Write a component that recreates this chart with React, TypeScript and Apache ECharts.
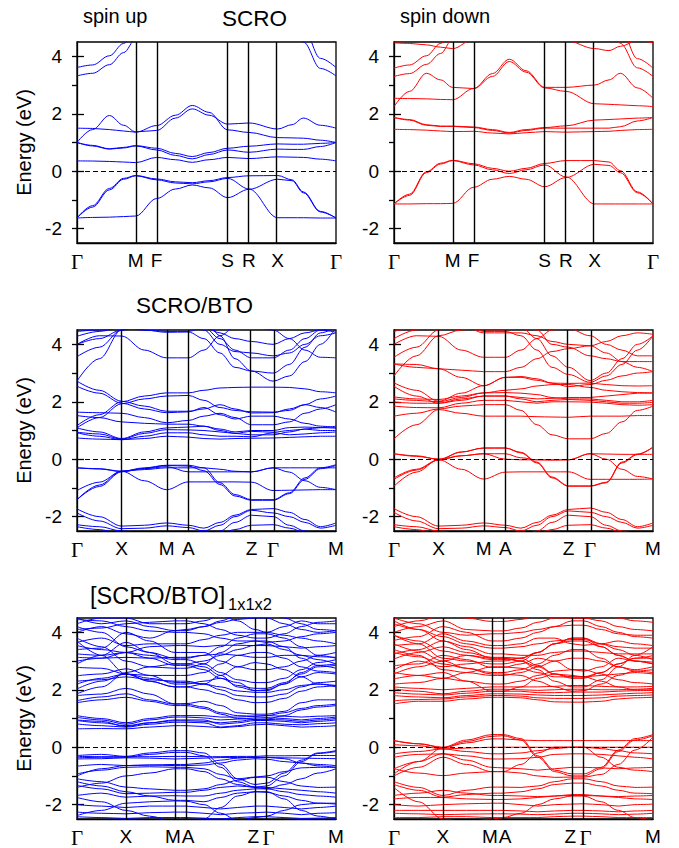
import React, { useEffect, useRef } from 'react';
import * as echarts from 'echarts';

// ---------- k-path positions and labels ----------
const kSCRO = [0, 0.06, 0.125, 0.18, 0.2265, 0.3076, 0.38, 0.445, 0.51, 0.5817, 0.664, 0.7748, 0.83, 0.874, 0.94, 1];
const symSCRO = [0, 0.2265, 0.3076, 0.5817, 0.664, 0.7748, 1];
const labSCRO = ['Γ', 'M', 'F', 'S', 'R', 'X', 'Γ'];

const kBTO = [0, 0.086, 0.1725, 0.26, 0.346, 0.43, 0.49, 0.552, 0.61, 0.674, 0.757, 0.82, 0.88, 0.94, 1];
const symBTO = [0, 0.1725, 0.346, 0.43, 0.674, 0.757, 1];
const labBTO = ['Γ', 'X', 'M', 'A', 'Z', 'Γ', 'M'];

const kSL = [0, 0.095, 0.189, 0.28, 0.378, 0.421, 0.49, 0.555, 0.62, 0.688, 0.732, 0.8, 0.866, 0.93, 1];
const symSL = [0, 0.189, 0.378, 0.421, 0.688, 0.732, 1];
const labSL = ['Γ', 'X', 'M', 'A', 'Z', 'Γ', 'M'];

const yMajor = [-2, 0, 2, 4];
const yAllTicks = [-2, -1, 0, 1, 2, 3, 4];

// ---------- SCRO spin up ----------
const upSCRO = [
  [-1.63, -1.2, -0.6, -0.25, -0.15, -0.27, -0.37, -0.40, -0.33, -0.22, -0.16, -0.15, -0.3, -0.72, -1.4, -1.63],
  [-1.63, -1.25, -0.65, -0.28, -0.16, -0.30, -0.41, -0.44, -0.37, -0.25, -0.62, -1.62, -1.62, -1.62, -1.63, -1.63],
  [-1.63, -1.61, -1.6, -1.58, -1.56, -0.95, -0.62, -0.48, -0.58, -0.92, -0.63, -0.28, -0.33, -0.75, -1.42, -1.63],
  [0.36, 0.355, 0.34, 0.32, 0.30, 0.48, 0.40, 0.31, 0.40, 0.48, 0.44, 0.50, 0.49, 0.48, 0.42, 0.36],
  [1.0, 0.88, 0.77, 0.81, 0.88, 0.74, 0.55, 0.43, 0.58, 0.74, 0.66, 0.77, 0.76, 0.76, 0.86, 1.0],
  [1.0, 0.9, 0.78, 0.83, 0.89, 0.80, 0.62, 0.51, 0.65, 0.80, 0.87, 0.95, 0.94, 0.94, 0.97, 1.0],
  [1.5, 1.49, 1.45, 1.40, 1.36, 1.59, 1.95, 2.29, 2.05, 1.44, 1.35, 1.17, 1.16, 1.15, 1.08, 1.0],
  [1.0, 1.45, 1.94, 1.6, 1.37, 1.42, 1.85, 2.17, 1.95, 1.64, 1.68, 1.47, 1.62, 1.85, 1.6, 1.5],
  [3.32, 3.41, 3.71, 4.13, 4.6, 5.2, 5.5, 5.6, 5.5, 5.3, 5.2, 5.0, 5.4, 4.5, 3.58, 3.32],
  [3.61, 3.70, 4.02, 4.45, 4.9, 5.4, 5.7, 5.8, 5.7, 5.5, 5.4, 5.5, 5.8, 5.0, 3.93, 3.61],
  [4.47, 4.9, 5.5, 5.9, 6, 6, 6, 6, 6, 6, 6, 6, 6, 5.5, 4.8, 4.47],
];

// ---------- SCRO spin down ----------
const dnSCRO = [
  [-1.14, -0.8, -0.02, 0.28, 0.38, 0.26, 0.1, 0.0, 0.1, 0.27, 0.37, 0.37, 0.32, 0.02, -0.72, -1.14],
  [-1.14, -0.84, -0.05, 0.25, 0.37, 0.22, 0.05, -0.08, 0.05, 0.22, -0.2, -1.14, -1.14, -1.14, -1.14, -1.14],
  [-1.14, -1.14, -1.13, -1.13, -1.12, -0.56, -0.28, -0.18, -0.28, -0.54, -0.22, 0.24, 0.2, -0.05, -0.75, -1.14],
  [1.46, 1.45, 1.43, 1.4, 1.38, 1.39, 1.33, 1.3, 1.34, 1.38, 1.36, 1.38, 1.39, 1.42, 1.45, 1.46],
  [1.87, 1.78, 1.6, 1.56, 1.56, 1.52, 1.42, 1.33, 1.42, 1.5, 1.5, 1.5, 1.5, 1.55, 1.75, 1.87],
  [1.87, 1.8, 1.62, 1.57, 1.57, 1.54, 1.45, 1.35, 1.45, 1.52, 1.58, 1.78, 1.8, 1.82, 1.85, 1.87],
  [2.25, 2.78, 3.41, 3.18, 2.92, 2.88, 3.4, 3.9, 3.5, 2.92, 2.92, 3.0, 3.18, 3.41, 2.9, 2.54],
  [2.54, 2.53, 2.52, 2.5, 2.49, 2.88, 3.3, 3.82, 3.45, 2.9, 2.78, 2.35, 2.33, 2.31, 2.28, 2.25],
  [3.3, 3.4, 3.72, 4.1, 4.6, 5.2, 5.5, 5.6, 5.5, 5.3, 5.2, 5.0, 5.3, 4.45, 3.6, 3.3],
  [3.59, 3.7, 4.02, 4.45, 4.9, 5.4, 5.7, 5.8, 5.7, 5.5, 5.4, 5.5, 5.7, 5.0, 3.92, 3.59],
  [4.47, 4.45, 4.4, 4.32, 4.27, 4.6, 5, 5.2, 5, 4.8, 4.55, 4.27, 4.2, 4.35, 4.55, 4.47],
];

// ---------- SCRO/BTO spin up ----------
const upBTO = [
  [-0.30, -0.33, -0.42, -0.30, -0.21, -0.21, -0.30, -0.82, -1.23, -1.41, -1.41, -1.17, -0.65, -0.30, -0.19],
  [-0.30, -0.34, -0.43, -0.33, -0.26, -0.44, -0.44, -0.44, -0.44, -0.44, -0.30, -0.45, -0.75, -0.98, -1.06],
  [-1.09, -0.80, -0.42, -0.75, -1.06, -0.79, -0.79, -0.79, -0.79, -0.80, -1.09, -1.08, -1.07, -1.06, -1.06],
  [-1.41, -0.95, -0.44, -0.32, -0.22, -0.24, -0.40, -0.88, -1.28, -1.43, -1.43, -1.20, -0.70, -0.33, -0.22],
  [-1.41, -0.90, -0.41, -0.36, -0.30, -0.30, -0.30, -0.35, -0.42, -0.44, -0.30, -0.30, -0.30, -0.30, -0.30],
  [-1.73, -2.0, -2.33, -2.30, -2.22, -2.30, -2.40, -2.20, -1.95, -1.75, -1.72, -1.85, -2.10, -2.35, -2.22],
  [-1.87, -2.15, -2.42, -2.40, -2.32, -2.38, -2.50, -2.30, -2.00, -1.78, -1.87, -2.00, -2.20, -2.40, -2.30],
  [-2.28, -2.35, -2.50, -2.60, -2.60, -2.60, -2.60, -2.60, -2.45, -2.30, -2.28, -2.40, -2.55, -2.60, -2.60],
  [-2.35, -2.45, -2.60, -2.70, -2.70, -2.70, -2.70, -2.50, -2.20, -1.95, -2.00, -2.30, -2.50, -2.60, -2.70],
  [0.74, 0.70, 0.68, 0.72, 0.80, 0.77, 0.72, 0.70, 0.72, 0.73, 0.74, 0.76, 0.78, 0.80, 0.80],
  [0.92, 0.80, 0.68, 0.80, 0.92, 0.92, 0.85, 0.80, 0.80, 0.78, 0.92, 0.85, 0.88, 0.92, 0.95],
  [0.94, 0.88, 0.70, 0.90, 1.03, 1.02, 1.00, 0.95, 0.90, 0.97, 0.94, 1.00, 1.05, 1.00, 1.00],
  [1.09, 0.95, 0.72, 0.95, 1.09, 1.12, 1.15, 1.05, 0.95, 1.00, 1.00, 1.10, 1.12, 1.10, 1.08],
  [1.17, 1.55, 2.00, 2.20, 2.31, 2.31, 2.40, 2.48, 2.50, 2.51, 2.51, 2.50, 2.45, 2.35, 2.31],
  [1.09, 1.45, 1.93, 2.10, 2.20, 2.22, 2.05, 1.80, 1.70, 1.65, 1.64, 1.70, 1.90, 2.10, 2.20],
  [2.72, 2.40, 2.02, 1.85, 1.67, 1.67, 1.75, 1.90, 1.75, 1.61, 1.62, 1.75, 1.90, 1.80, 1.64],
  [2.54, 2.30, 1.95, 1.75, 1.62, 1.65, 1.80, 1.55, 1.40, 1.50, 1.50, 1.40, 1.25, 1.15, 1.10],
  [1.64, 1.62, 1.60, 1.45, 1.27, 1.35, 1.50, 1.60, 1.45, 1.20, 1.20, 1.30, 1.60, 1.75, 1.90],
  [1.52, 1.45, 1.30, 1.25, 1.22, 1.22, 1.15, 1.00, 0.90, 0.85, 0.85, 0.95, 1.05, 1.10, 1.15],
  [2.72, 3.50, 4.50, 5.00, 5.00, 5.00, 5.00, 4.30, 3.50, 3.07, 2.72, 2.90, 3.40, 4.00, 4.60],
  [4.00, 4.30, 4.29, 3.80, 3.53, 3.53, 3.80, 4.30, 4.60, 4.60, 4.50, 4.20, 3.80, 3.55, 3.53],
  [4.28, 4.45, 4.60, 4.50, 4.42, 4.43, 4.20, 3.70, 3.20, 3.07, 3.00, 3.30, 3.90, 4.40, 4.60],
  [3.57, 3.90, 4.50, 4.80, 4.80, 4.80, 4.60, 4.20, 3.80, 3.53, 3.53, 3.80, 4.20, 4.50, 4.60],
  [4.00, 4.20, 4.50, 4.60, 4.60, 4.60, 4.50, 4.00, 3.75, 3.70, 3.60, 3.70, 4.00, 4.30, 4.40],
  [4.45, 4.50, 4.55, 4.50, 4.45, 4.45, 4.60, 4.40, 4.20, 4.10, 4.00, 4.20, 4.40, 4.50, 4.42],
];

// ---------- SCRO/BTO spin down ----------
const dnBTO = [
  [0.19, 0.10, 0.00, 0.25, 0.39, 0.39, 0.22, -0.13, -0.65, -0.94, -0.94, -0.82, -0.13, 0.16, 0.42],
  [-0.94, -0.45, -0.02, 0.25, 0.39, 0.39, 0.24, -0.10, -0.62, -0.93, -0.93, -0.80, -0.10, 0.18, 0.42],
  [0.19, 0.12, 0.00, 0.12, 0.19, 0.00, -0.02, -0.02, -0.02, -0.02, 0.19, 0.18, 0.17, 0.17, 0.17],
  [-0.65, -0.35, -0.02, -0.35, -0.69, -0.45, -0.44, -0.44, -0.44, -0.44, -0.70, -0.70, -0.70, -0.70, -0.69],
  [-0.70, -0.38, -0.03, 0.12, 0.19, 0.19, 0.05, -0.02, -0.03, -0.02, 0.19, 0.00, -0.35, -0.60, -0.69],
  [-1.72, -2.0, -2.33, -2.30, -2.22, -2.30, -2.40, -2.20, -1.95, -1.75, -1.70, -1.85, -2.10, -2.35, -2.22],
  [-1.85, -2.15, -2.42, -2.40, -2.32, -2.38, -2.50, -2.30, -2.00, -1.80, -1.85, -2.00, -2.20, -2.40, -2.30],
  [-2.28, -2.35, -2.50, -2.60, -2.60, -2.60, -2.60, -2.60, -2.45, -2.30, -2.28, -2.40, -2.55, -2.60, -2.60],
  [-2.35, -2.45, -2.60, -2.70, -2.70, -2.70, -2.70, -2.50, -2.20, -1.95, -2.00, -2.30, -2.50, -2.60, -2.70],
  [0.71, 1.20, 1.73, 1.60, 1.50, 1.50, 1.50, 1.48, 1.47, 1.46, 1.50, 1.50, 1.50, 1.52, 1.52],
  [1.50, 1.60, 1.75, 1.85, 1.90, 1.90, 1.70, 1.20, 0.85, 0.71, 0.71, 0.90, 1.30, 1.70, 1.85],
  [1.85, 1.80, 1.79, 1.95, 2.05, 2.05, 2.00, 1.95, 2.00, 2.00, 1.99, 1.95, 1.90, 1.88, 1.90],
  [1.99, 1.95, 1.95, 2.05, 2.20, 2.20, 2.10, 2.00, 2.05, 2.08, 2.05, 2.00, 1.95, 1.95, 1.98],
  [2.10, 2.05, 2.00, 2.15, 2.31, 2.32, 2.30, 2.25, 2.15, 2.10, 2.10, 2.05, 2.00, 2.00, 2.05],
  [2.17, 2.10, 2.08, 2.20, 2.31, 2.40, 2.45, 2.55, 2.60, 2.60, 2.50, 2.40, 2.35, 2.32, 2.31],
  [2.54, 2.20, 1.95, 2.10, 2.20, 2.20, 2.15, 2.10, 2.12, 2.15, 2.15, 2.20, 2.25, 2.30, 2.30],
  [2.66, 2.40, 2.02, 2.30, 2.56, 2.85, 2.85, 2.75, 2.65, 2.64, 2.65, 2.60, 2.56, 2.55, 2.56],
  [3.32, 3.20, 3.15, 2.85, 2.56, 2.85, 2.88, 2.80, 2.65, 2.53, 2.60, 2.75, 2.90, 3.00, 3.05],
  [2.90, 3.60, 4.30, 4.50, 4.60, 4.60, 4.60, 4.20, 3.60, 3.20, 2.74, 3.00, 3.50, 4.00, 4.30],
  [3.32, 3.30, 3.15, 3.10, 3.05, 3.05, 3.20, 3.50, 3.75, 3.85, 3.95, 3.70, 3.40, 3.20, 3.05],
  [4.00, 4.30, 4.28, 3.80, 3.55, 3.55, 3.80, 4.20, 4.50, 4.55, 4.30, 4.00, 3.80, 3.60, 3.60],
  [3.55, 3.90, 4.50, 4.80, 4.45, 4.45, 4.30, 3.80, 3.20, 2.95, 2.68, 2.90, 3.30, 3.80, 4.30],
  [4.20, 4.50, 4.80, 4.70, 4.40, 4.40, 4.40, 4.30, 4.10, 4.00, 3.95, 4.10, 4.30, 4.40, 4.35],
  [4.45, 4.60, 4.70, 4.60, 4.50, 4.50, 4.60, 4.50, 4.00, 3.90, 3.60, 3.50, 3.40, 3.40, 3.40],
];

// ---------- [SCRO/BTO]1x1x2 spin up ----------
const upSL = [
  [-0.29, -0.25, -0.32, -0.2, -0.12, -0.12, -0.2, -0.6, -1.1, -1.3, -1.25, -0.9, -0.45, -0.2, -0.12],
  [-0.37, -0.35, -0.35, -0.25, -0.18, -0.18, -0.3, -0.7, -1.2, -1.39, -1.35, -1.0, -0.5, -0.22, -0.15],
  [-0.32, -0.33, -0.33, -0.33, -0.32, -0.32, -0.33, -0.33, -0.32, -0.32, -0.3, -0.3, -0.29, -0.29, -0.29],
  [-0.41, -0.4, -0.37, -0.38, -0.41, -0.4, -0.38, -0.36, -0.36, -0.36, -0.36, -0.37, -0.38, -0.39, -0.4],
  [-0.66, -0.6, -0.64, -0.62, -0.64, -0.64, -0.62, -0.55, -0.45, -0.4, -0.42, -0.5, -0.55, -0.6, -0.64],
  [-0.93, -0.8, -0.7, -0.68, -0.7, -0.7, -0.75, -0.95, -1.1, -1.04, -1.0, -0.85, -0.72, -0.7, -0.7],
  [-1.0, -0.75, -0.64, -0.62, -0.6, -0.6, -0.55, -0.45, -0.38, -0.35, -0.35, -0.4, -0.55, -0.65, -0.7],
  [-1.1, -1.2, -1.39, -1.45, -1.5, -1.5, -1.45, -1.3, -1.15, -1.05, -1.04, -1.2, -1.35, -1.4, -1.39],
  [-1.33, -1.45, -1.62, -1.6, -1.57, -1.57, -1.5, -1.4, -1.35, -1.39, -1.4, -1.45, -1.5, -1.55, -1.6],
  [-1.68, -1.6, -1.74, -1.7, -1.69, -1.7, -1.7, -1.6, -1.5, -1.45, -1.45, -1.55, -1.65, -1.7, -1.74],
  [-1.4, -1.25, -1.0, -0.9, -0.75, -0.75, -0.85, -1.1, -1.3, -1.4, -1.45, -1.3, -1.1, -0.9, -0.75],
  [-1.2, -1.35, -1.55, -1.7, -1.85, -1.85, -1.9, -1.75, -1.6, -1.55, -1.57, -1.7, -1.85, -1.95, -1.98],
  [-2.0, -2.05, -2.1, -2.05, -2.05, -2.05, -2.1, -2.15, -2.1, -2.05, -2.05, -2.1, -2.15, -2.1, -2.05],
  [-2.26, -2.3, -2.32, -2.28, -2.26, -2.26, -2.3, -2.35, -2.3, -2.28, -2.26, -2.3, -2.35, -2.3, -2.28],
  [-2.38, -2.2, -1.95, -1.9, -1.87, -1.88, -2.0, -2.3, -2.55, -2.45, -2.4, -2.2, -2.0, -1.95, -1.95],
  [-1.75, -1.9, -2.2, -2.4, -2.6, -2.6, -2.5, -2.1, -1.7, -1.55, -1.55, -1.8, -2.2, -2.4, -2.5],
  [-2.42, -2.45, -2.48, -2.45, -2.45, -2.45, -2.47, -2.5, -2.45, -2.42, -2.42, -2.45, -2.48, -2.47, -2.45],
  [0.64, 0.65, 0.64, 0.7, 0.75, 0.75, 0.72, 0.68, 0.72, 0.78, 0.8, 0.75, 0.7, 0.72, 0.75],
  [0.81, 0.75, 0.7, 0.8, 0.87, 0.87, 0.85, 0.7, 0.75, 0.85, 0.85, 0.8, 0.78, 0.82, 0.85],
  [0.93, 0.85, 0.75, 0.85, 0.95, 0.95, 0.95, 0.8, 0.85, 0.93, 0.93, 0.9, 0.85, 0.9, 0.95],
  [1.04, 0.95, 0.8, 0.95, 1.05, 1.05, 1.02, 0.95, 0.98, 1.02, 1.03, 1.0, 0.95, 1.0, 1.05],
  [1.1, 1.0, 0.85, 1.0, 1.1, 1.1, 1.1, 1.05, 1.05, 1.08, 1.1, 1.08, 1.05, 1.08, 1.1],
  [0.95, 0.9, 0.72, 0.85, 0.92, 0.92, 0.9, 0.85, 0.9, 0.97, 0.97, 0.95, 0.9, 0.95, 1.0],
  [1.62, 1.75, 1.86, 1.65, 1.5, 1.5, 1.4, 1.2, 1.1, 1.08, 1.1, 1.2, 1.35, 1.45, 1.5],
  [1.8, 1.85, 2.05, 1.85, 1.51, 1.52, 1.6, 1.45, 1.2, 1.15, 1.15, 1.25, 1.55, 1.65, 1.65],
  [1.55, 1.65, 1.74, 1.6, 1.45, 1.45, 1.35, 1.15, 1.0, 0.97, 0.98, 1.1, 1.3, 1.4, 1.45],
  [2.03, 2.3, 2.55, 2.4, 2.26, 2.25, 2.2, 2.1, 1.96, 1.91, 1.91, 2.0, 2.15, 2.2, 2.15],
  [2.49, 2.55, 2.73, 2.5, 2.2, 2.2, 2.3, 2.4, 2.25, 1.97, 1.97, 2.2, 2.45, 2.6, 2.55],
  [1.86, 2.1, 2.6, 2.8, 2.9, 2.9, 2.8, 2.5, 2.1, 1.97, 2.0, 2.2, 2.6, 2.85, 2.9],
  [2.78, 2.75, 2.55, 2.5, 2.5, 2.5, 2.6, 2.9, 3.2, 3.3, 3.3, 3.1, 2.8, 2.65, 2.6],
  [3.13, 3.1, 3.13, 3.1, 3.13, 3.13, 3.2, 3.25, 3.2, 3.13, 3.13, 3.2, 3.2, 3.15, 3.13],
  [3.25, 3.2, 3.3, 3.2, 3.05, 3.05, 2.9, 2.6, 2.35, 2.25, 2.25, 2.4, 2.7, 2.95, 3.05],
  [3.54, 3.4, 3.3, 3.5, 3.54, 3.54, 3.5, 3.55, 3.55, 3.54, 3.54, 3.5, 3.45, 3.5, 3.54],
  [3.65, 3.8, 3.54, 3.6, 3.6, 3.6, 3.75, 3.9, 4.0, 4.0, 4.0, 3.9, 3.8, 3.7, 3.6],
  [4.0, 4.2, 3.95, 3.8, 4.06, 4.1, 4.2, 4.35, 4.45, 4.5, 4.5, 4.3, 4.1, 4.0, 4.06],
  [4.3, 4.5, 4.5, 4.3, 4.3, 4.3, 4.4, 4.6, 4.4, 4.1, 4.0, 4.2, 4.4, 4.3, 4.3],
  [2.9, 3.2, 3.65, 3.3, 2.9, 2.9, 3.0, 3.2, 3.4, 3.55, 3.6, 3.4, 3.2, 3.05, 2.9],
  [3.4, 3.45, 4.0, 3.7, 3.3, 3.3, 3.3, 3.0, 2.8, 2.7, 2.7, 2.8, 3.0, 3.2, 3.3],
  [4.45, 4.4, 4.2, 4.05, 4.0, 4.0, 3.95, 3.8, 3.7, 3.7, 3.65, 3.7, 3.85, 3.95, 4.0],
  [2.2, 2.4, 2.55, 2.3, 2.1, 2.1, 2.0, 1.85, 1.65, 1.55, 1.56, 1.7, 1.95, 2.1, 2.15],
  [3.7, 3.2, 2.55, 2.3, 2.1, 2.1, 2.2, 2.5, 2.8, 2.95, 2.9, 2.7, 2.45, 2.2, 2.1],
  [3.8, 3.5, 3.0, 2.8, 2.75, 2.75, 2.9, 3.3, 3.6, 3.7, 3.7, 3.5, 3.1, 2.85, 2.75],
  [4.2, 4.0, 3.5, 3.3, 3.1, 3.1, 3.2, 3.5, 3.8, 3.95, 3.95, 3.8, 3.5, 3.2, 3.1],
  [4.5, 4.3, 4.4, 4.2, 4.06, 4.06, 4.2, 4.4, 4.6, 4.7, 4.7, 4.5, 4.3, 4.1, 4.06],
  [2.3, 2.35, 2.45, 2.35, 2.3, 2.3, 2.2, 2.0, 1.8, 1.75, 1.75, 1.85, 2.1, 2.25, 2.3],
  [3.0, 3.1, 3.3, 3.1, 2.85, 2.85, 2.7, 2.4, 2.15, 2.05, 2.05, 2.25, 2.55, 2.8, 2.85],
  [4.1, 4.15, 4.3, 4.35, 4.4, 4.4, 4.3, 4.1, 3.9, 3.8, 3.8, 3.95, 4.2, 4.35, 4.4],
];

// ---------- [SCRO/BTO]1x1x2 spin down ----------
const dnSL = [
  [0.23, 0.12, 0.0, 0.25, 0.44, 0.44, 0.3, -0.3, -0.8, -0.93, -0.93, -0.7, -0.1, 0.3, 0.44],
  [-0.93, -0.5, -0.02, 0.2, 0.38, 0.4, 0.25, -0.35, -0.85, -1.0, -1.0, -0.75, -0.15, 0.25, 0.40],
  [0.23, 0.12, -0.02, 0.15, 0.29, 0.29, 0.25, 0.23, 0.23, 0.23, 0.23, 0.23, 0.23, 0.23, 0.23],
  [0.09, 0.05, -0.06, -0.03, 0.0, 0.0, 0.0, 0.0, 0.0, 0.0, 0.0, 0.0, 0.0, 0.0, 0.0],
  [-0.23, -0.15, -0.06, -0.15, -0.23, -0.23, -0.20, -0.12, -0.05, 0.0, 0.0, -0.05, -0.12, -0.2, -0.23],
  [-0.35, -0.25, -0.23, -0.3, -0.41, -0.41, -0.4, -0.35, -0.25, -0.23, -0.23, -0.25, -0.3, -0.35, -0.41],
  [-0.75, -0.5, -0.23, -0.45, -0.7, -0.72, -0.75, -0.8, -0.75, -0.7, -0.7, -0.72, -0.75, -0.72, -0.7],
  [-1.0, -0.7, -0.35, -0.6, -0.85, -0.85, -0.6, -0.2, 0.0, 0.0, 0.0, -0.35, -0.7, -0.8, -0.85],
  [-0.75, -0.9, -0.99, -0.9, -0.85, -0.85, -0.9, -1.0, -1.05, -1.04, -1.04, -0.95, -0.6, -0.1, 0.35],
  [-1.2, -1.4, -1.68, -1.5, -1.39, -1.39, -1.4, -1.35, -1.2, -1.1, -1.1, -1.2, -1.35, -1.4, -1.39],
  [-1.3, -1.5, -1.74, -1.65, -1.6, -1.6, -1.55, -1.45, -1.3, -1.25, -1.25, -1.35, -1.5, -1.6, -1.62],
  [-1.68, -1.6, -1.5, -1.6, -1.68, -1.68, -1.7, -1.72, -1.7, -1.68, -1.68, -1.7, -1.72, -1.7, -1.68],
  [-1.8, -1.75, -1.75, -1.8, -1.82, -1.82, -1.8, -1.75, -1.7, -1.65, -1.65, -1.7, -1.75, -1.8, -1.82],
  [-2.0, -2.05, -2.0, -1.97, -1.95, -1.95, -2.0, -2.05, -2.0, -1.98, -1.97, -2.0, -2.05, -2.0, -1.98],
  [-2.2, -2.2, -2.2, -2.2, -2.2, -2.2, -2.22, -2.25, -2.22, -2.2, -2.2, -2.22, -2.25, -2.22, -2.2],
  [-2.3, -2.32, -2.35, -2.33, -2.32, -2.32, -2.33, -2.35, -2.33, -2.3, -2.3, -2.32, -2.35, -2.33, -2.3],
  [-1.4, -1.9, -2.5, -2.6, -2.5, -2.45, -2.3, -2.0, -1.8, -1.7, -1.7, -1.9, -2.2, -2.45, -2.55],
  [-2.45, -2.45, -2.42, -2.42, -2.45, -2.45, -2.45, -2.45, -2.42, -2.4, -2.4, -2.42, -2.45, -2.45, -2.45],
  [1.51, 1.6, 1.6, 1.68, 1.74, 1.74, 1.72, 1.65, 1.58, 1.57, 1.57, 1.6, 1.68, 1.72, 1.74],
  [1.62, 1.66, 1.68, 1.75, 1.8, 1.8, 1.78, 1.72, 1.7, 1.7, 1.7, 1.72, 1.78, 1.8, 1.82],
  [1.8, 1.75, 1.72, 1.8, 1.86, 1.86, 1.85, 1.82, 1.8, 1.8, 1.8, 1.82, 1.85, 1.88, 1.9],
  [1.9, 1.85, 1.82, 1.88, 1.95, 1.95, 1.95, 1.9, 1.9, 1.92, 1.92, 1.92, 1.95, 1.97, 1.98],
  [2.03, 1.95, 1.86, 1.95, 2.02, 2.02, 2.0, 1.98, 2.0, 2.02, 2.02, 2.0, 2.0, 2.02, 2.05],
  [2.1, 2.05, 2.0, 2.05, 2.1, 2.1, 2.1, 2.1, 2.12, 2.15, 2.15, 2.12, 2.1, 2.1, 2.12],
  [2.38, 2.5, 2.6, 2.3, 1.95, 1.95, 2.1, 2.4, 2.55, 2.5, 2.45, 2.3, 2.1, 2.0, 2.0],
  [2.55, 2.8, 3.0, 2.75, 2.55, 2.55, 2.5, 2.3, 2.1, 1.95, 1.97, 2.2, 2.5, 2.65, 2.7],
  [2.84, 2.9, 3.2, 3.05, 2.78, 2.78, 2.9, 3.1, 3.0, 2.7, 2.65, 2.8, 3.1, 3.0, 2.96],
  [3.07, 3.3, 3.5, 3.3, 3.13, 3.13, 3.1, 2.85, 2.55, 2.4, 2.4, 2.6, 2.9, 3.1, 3.19],
  [3.25, 3.4, 3.7, 3.5, 3.25, 3.25, 3.2, 3.2, 3.3, 3.35, 3.35, 3.3, 3.25, 3.25, 3.25],
  [3.54, 3.6, 3.95, 3.7, 3.54, 3.54, 3.6, 3.8, 3.8, 3.6, 3.55, 3.6, 3.7, 3.6, 3.54],
  [3.72, 3.85, 4.2, 4.0, 3.7, 3.7, 3.8, 4.0, 4.2, 4.4, 4.4, 4.2, 4.0, 3.85, 3.8],
  [4.0, 4.2, 4.4, 4.1, 4.05, 4.05, 4.15, 4.35, 4.5, 4.5, 4.5, 4.4, 4.2, 4.1, 4.05],
  [4.2, 4.4, 4.6, 4.5, 4.38, 4.38, 4.45, 4.6, 4.7, 4.7, 4.7, 4.6, 4.5, 4.4, 4.35],
  [2.7, 3.0, 2.8, 2.9, 3.0, 3.0, 3.1, 3.3, 3.6, 3.7, 3.7, 3.5, 3.2, 3.0, 2.9],
  [2.6, 2.5, 2.4, 2.6, 2.8, 2.8, 2.75, 2.6, 2.45, 2.45, 2.45, 2.5, 2.55, 2.6, 2.55],
  [3.4, 3.2, 2.7, 2.6, 2.5, 2.5, 2.6, 2.8, 3.0, 3.1, 3.1, 3.0, 2.8, 2.7, 2.8],
  [4.4, 4.1, 3.7, 3.4, 3.1, 3.1, 3.0, 2.7, 2.3, 2.1, 2.1, 2.35, 2.8, 3.2, 3.5],
  [3.9, 3.7, 3.35, 3.2, 3.05, 3.05, 3.1, 3.3, 3.6, 3.8, 3.8, 3.6, 3.4, 3.2, 3.05],
  [3.3, 3.15, 2.9, 2.75, 2.6, 2.6, 2.7, 2.9, 3.2, 3.4, 3.4, 3.1, 2.8, 2.65, 2.6],
  [3.9, 3.6, 3.1, 3.0, 2.9, 2.9, 3.0, 3.3, 3.6, 3.8, 3.8, 3.5, 3.2, 3.0, 2.9],
  [4.3, 4.1, 3.85, 3.6, 3.45, 3.45, 3.5, 3.6, 3.7, 3.75, 3.75, 3.6, 3.5, 3.45, 3.45],
  [2.2, 2.25, 2.4, 2.3, 2.2, 2.2, 2.3, 2.5, 2.65, 2.7, 2.7, 2.55, 2.35, 2.25, 2.2],
  [4.5, 4.3, 4.0, 3.9, 3.95, 3.95, 4.0, 4.1, 4.2, 4.25, 4.25, 4.1, 3.95, 3.9, 3.9],
  [3.6, 3.35, 3.0, 3.2, 3.1, 3.1, 3.0, 2.8, 2.55, 2.45, 2.45, 2.6, 2.9, 3.1, 3.1],
];

const BLUE = '#0000ff';
const RED = '#ff0000';
const FONT = "'Liberation Sans', Arial, Helvetica, sans-serif";
const SERIF = "'Liberation Serif', 'Times New Roman', serif";

// label nudges (-1: push left, +1: push right) for tightly spaced symmetry points
const noNudge = [0, 0, 0, 0, 0, 0, 0];
const nudgeSL = [0, 0, -1, 1, -1, 1, 0];

const panels = [
  { k: kSCRO, sym: symSCRO, lab: labSCRO, nudge: noNudge, bands: upSCRO, color: BLUE, left: 77, top: 42, name: true },
  { k: kSCRO, sym: symSCRO, lab: labSCRO, nudge: noNudge, bands: dnSCRO, color: RED, left: 394, top: 42, name: false },
  { k: kBTO, sym: symBTO, lab: labBTO, nudge: noNudge, bands: upBTO, color: BLUE, left: 77, top: 330, name: true },
  { k: kBTO, sym: symBTO, lab: labBTO, nudge: noNudge, bands: dnBTO, color: RED, left: 394, top: 330, name: false },
  { k: kSL, sym: symSL, lab: labSL, nudge: nudgeSL, bands: upSL, color: BLUE, left: 77, top: 618, name: true },
  { k: kSL, sym: symSL, lab: labSL, nudge: nudgeSL, bands: dnSL, color: RED, left: 394, top: 618, name: false },
];

const PW = 259;
const PH = 201;

function buildOption() {
  const grid: any[] = [];
  const xAxis: any[] = [];
  const yAxis: any[] = [];
  const series: any[] = [];
  const n = panels.length;
  panels.forEach((p, i) => {
    grid.push({
      left: p.left, top: p.top, width: PW, height: PH,
      show: true, borderColor: '#000', borderWidth: 1.3, backgroundColor: 'transparent',
    });
    xAxis.push({
      type: 'value', gridIndex: i, min: 0, max: 1,
      splitLine: { show: false },
      axisLine: { show: true, onZero: false, lineStyle: { color: '#000', width: 1.3 } },
      axisTick: { show: false },
      axisLabel: {
        customValues: p.sym,
        margin: 8,
        fontSize: 19,
        color: '#000',
        fontFamily: FONT,
        formatter: (v: number) => {
          const idx = p.sym.findIndex((s) => Math.abs(s - v) < 1e-6);
          if (idx < 0) return '';
          const t = p.lab[idx];
          const nd = p.nudge[idx];
          const g = t === 'Γ';
          const key = (g ? 'g' : 's') + (nd < 0 ? 'L' : nd > 0 ? 'R' : '');
          return `{${key}|${t}}`;
        },
        rich: {
          g: { fontFamily: SERIF, fontSize: 21, color: '#000' },
          gL: { fontFamily: SERIF, fontSize: 21, color: '#000', padding: [0, 4, 0, 0] },
          gR: { fontFamily: SERIF, fontSize: 21, color: '#000', padding: [0, 0, 0, 4] },
          s: { fontFamily: FONT, fontSize: 19, color: '#000' },
          sL: { fontFamily: FONT, fontSize: 19, color: '#000', padding: [0, 4, 0, 0] },
          sR: { fontFamily: FONT, fontSize: 19, color: '#000', padding: [0, 0, 0, 4] },
        },
      },
    });
    yAxis.push({
      type: 'value', gridIndex: i, min: -2.5, max: 4.5,
      splitLine: { show: false },
      axisLine: { show: true, onZero: false, lineStyle: { color: '#000', width: 1.3 } },
      axisTick: { show: true, customValues: yAllTicks, length: 5, lineStyle: { color: '#000', width: 1.3 } },
      axisLabel: { customValues: yMajor, margin: 15, fontSize: 19, color: '#000', fontFamily: FONT },
      name: p.name ? 'Energy (eV)' : '',
      nameLocation: 'middle',
      nameGap: 43,
      nameTextStyle: { fontSize: 20, color: '#000', fontFamily: FONT },
    });
    p.bands.forEach((b) => {
      series.push({
        type: 'line', xAxisIndex: i, yAxisIndex: i,
        data: p.k.map((x, m) => [x, b[m]]),
        smooth: 0.35, smoothMonotone: 'x',
        symbol: 'none', clip: true, silent: true, z: 2,
        lineStyle: { color: p.color, width: 1 },
      });
    });
    series.push({
      type: 'line', xAxisIndex: i, yAxisIndex: i, data: [], symbol: 'none', silent: true, z: 5,
      markLine: {
        silent: true, symbol: 'none', label: { show: false },
        lineStyle: { color: '#000', width: 1.4, type: 'solid' },
        data: p.sym.slice(1, -1).map((x) => ({ xAxis: x })),
      },
    });
    series.push({
      type: 'line', xAxisIndex: i, yAxisIndex: i, data: [], symbol: 'none', silent: true, z: 1,
      markLine: {
        silent: true, symbol: 'none', label: { show: false },
        lineStyle: { color: '#000', width: 1, type: [5, 3] },
        data: [{ yAxis: 0 }],
      },
    });
  });
  // overlay grids carrying the inward half of the major ticks
  panels.forEach((p, i) => {
    grid.push({ left: p.left, top: p.top, width: PW, height: PH, show: false });
    xAxis.push({ type: 'value', gridIndex: n + i, min: 0, max: 1, show: false });
    yAxis.push({
      type: 'value', gridIndex: n + i, min: -2.5, max: 4.5, position: 'left',
      splitLine: { show: false },
      axisLine: { show: false, onZero: false },
      axisLabel: { show: false },
      axisTick: { show: true, inside: true, customValues: yMajor, length: 7, lineStyle: { color: '#000', width: 1.3 } },
    });
  });

  const graphic = [
    { type: 'text', x: 83, y: 16, style: { text: 'spin up', font: `20px ${FONT}`, fill: '#000', align: 'left', verticalAlign: 'middle' } },
    { type: 'text', x: 254.5, y: 18, style: { text: 'SCRO', font: `22.5px ${FONT}`, fill: '#000', align: 'center', verticalAlign: 'middle' } },
    { type: 'text', x: 400, y: 16, style: { text: 'spin down', font: `20px ${FONT}`, fill: '#000', align: 'left', verticalAlign: 'middle' } },
    { type: 'text', x: 194.5, y: 305.5, style: { text: 'SCRO/BTO', font: `22.5px ${FONT}`, fill: '#000', align: 'center', verticalAlign: 'middle' } },
    { type: 'text', x: 90, y: 595.5, style: { text: '[SCRO/BTO]', font: `23.5px ${FONT}`, fill: '#000', align: 'left', verticalAlign: 'middle' } },
    { type: 'text', x: 228, y: 604, style: { text: '1x1x2', font: `16.5px ${FONT}`, fill: '#000', align: 'left', verticalAlign: 'middle' } },
  ];

  return { animation: false, backgroundColor: '#fff', grid, xAxis, yAxis, series, graphic };
}

export default function App() {
  const ref = useRef<HTMLDivElement>(null);
  useEffect(() => {
    document.body.style.margin = '0';
    if (!ref.current) return;
    const chart = echarts.init(ref.current, undefined, { renderer: 'svg' });
    chart.setOption(buildOption() as any);
    return () => chart.dispose();
  }, []);
  return <div ref={ref} style={{ position: 'absolute', left: 0, top: 0, width: 679, height: 848 }} />;
}
